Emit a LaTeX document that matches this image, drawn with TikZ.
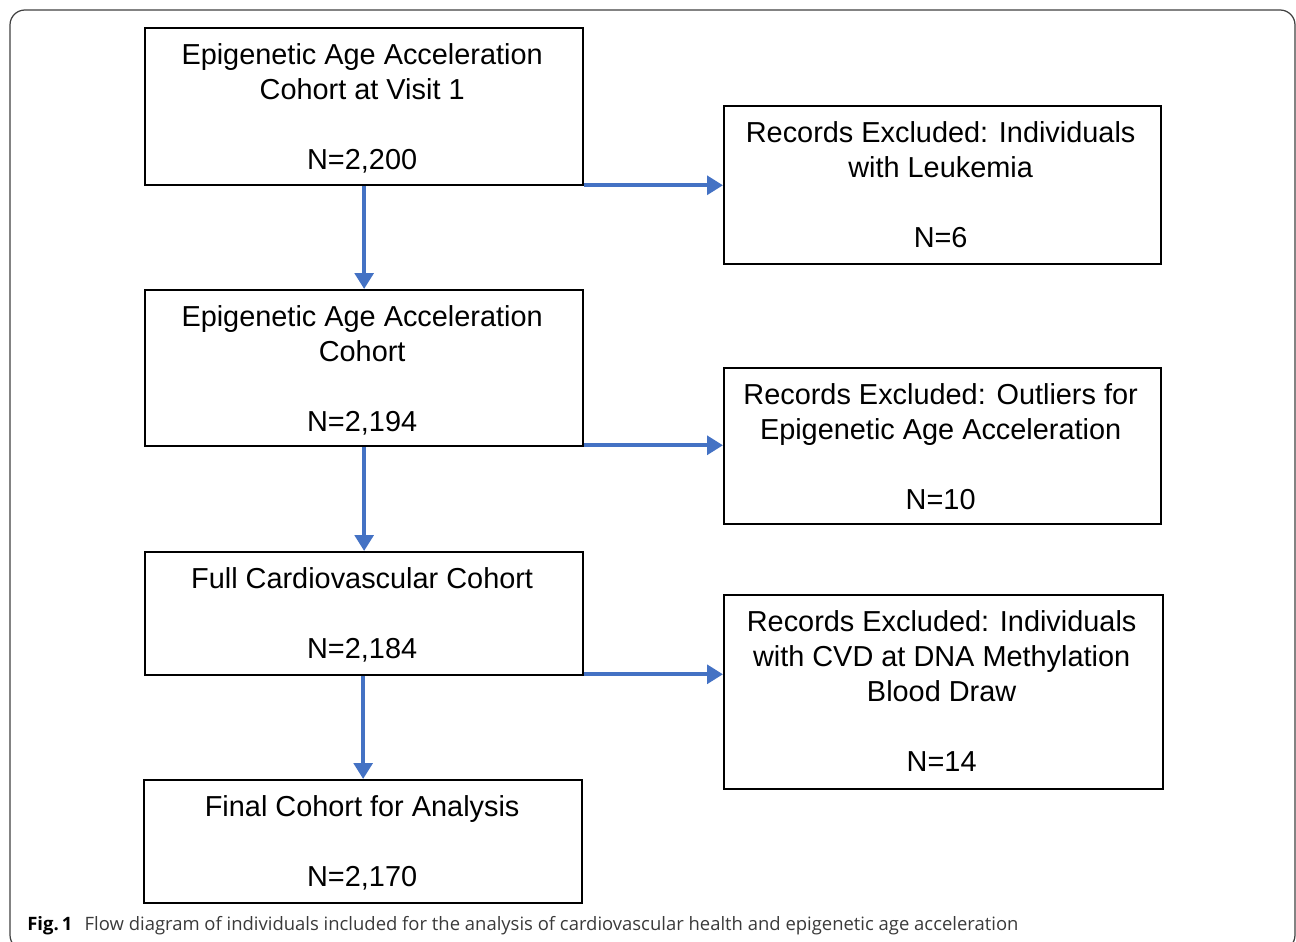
\documentclass[tikz,border=0pt]{standalone}
\usepackage{fontspec}
\setmainfont{Liberation Sans}
\newfontfamily\capfont{Open Sans}
\usetikzlibrary{arrows.meta}
\definecolor{arrblue}{HTML}{4472C4}
\definecolor{capgray}{HTML}{3A3A3A}
\tikzset{
  box/.style={draw=black, line width=1.3pt, anchor=north west, inner sep=0pt},
  boxtext/.style={anchor=north, align=center, inner sep=0pt, font=\fontsize{16.44pt}{19.84pt}\selectfont},
  arr/.style={draw=arrblue, line width=2.3pt, -{Triangle[length=9pt,width=10.5pt]}},
  frame/.style={draw=black!75, line width=0.7pt, rounded corners=8.5pt}
}
\begin{document}
\begin{tikzpicture}[x=0.02cm, y=-0.02cm]
\useasboundingbox (0,0) rectangle (1296,942);
\draw[frame] (10,10) rectangle (1295,950);
% boxes
\node[box, minimum width=438*0.02cm, minimum height=157*0.02cm] (b1) at (144,27) {};
\node[box, minimum width=437*0.02cm, minimum height=158*0.02cm] (b2) at (723,105) {};
\node[box, minimum width=438*0.02cm, minimum height=156*0.02cm] (b3) at (144,289) {};
\node[box, minimum width=437*0.02cm, minimum height=156*0.02cm] (b4) at (723,367) {};
\node[box, minimum width=438*0.02cm, minimum height=123*0.02cm] (b5) at (144,551) {};
\node[box, minimum width=439*0.02cm, minimum height=194*0.02cm] (b6) at (723,594) {};
\node[box, minimum width=438*0.02cm, minimum height=123*0.02cm] (b7) at (143,779) {};
% texts
\node[boxtext] (t1) at ([xshift=-2*0.02cm,yshift=-16.5*0.02cm]b1.north) {Epigenetic Age Acceleration\\Cohort at Visit 1\\[19.84pt]N=2,200};
\node[boxtext] (t2) at ([xshift=-2*0.02cm,yshift=-16.5*0.02cm]b2.north) {Records Excluded: Individuals\\with Leukemia\\[19.84pt]N=6};
\node[boxtext] (t3) at ([xshift=-2*0.02cm,yshift=-16.5*0.02cm]b3.north) {Epigenetic Age Acceleration\\Cohort\\[19.84pt]N=2,194};
\node[boxtext] (t4) at ([xshift=-2*0.02cm,yshift=-16.5*0.02cm]b4.north) {Records Excluded: Outliers for\\Epigenetic Age Acceleration\\[19.84pt]N=10};
\node[boxtext] (t5) at ([xshift=-2*0.02cm,yshift=-16.5*0.02cm]b5.north) {Full Cardiovascular Cohort\\[19.84pt]N=2,184};
\node[boxtext] (t6) at ([xshift=-2*0.02cm,yshift=-16.5*0.02cm]b6.north) {Records Excluded: Individuals\\with CVD at DNA Methylation\\Blood Draw\\[19.84pt]N=14};
\node[boxtext] (t7) at ([xshift=-1*0.02cm,yshift=-16.5*0.02cm]b7.north) {Final Cohort for Analysis\\[19.84pt]N=2,170};
% arrows
\draw[arr] (b1.south) -- (b3.north);
\draw[arr] (b3.south) -- (b5.north);
\draw[arr] ([xshift=-1*0.02cm]b5.south) -- (b7.north);
\draw[arr] ([yshift=1*0.02cm]b1.south east) -- ([yshift=1*0.02cm]b1.south east -| b2.west);
\draw[arr] ([yshift=2*0.02cm]b3.south east) -- ([yshift=2*0.02cm]b3.south east -| b4.west);
\draw[arr] ([yshift=2*0.02cm]b5.south east) -- ([yshift=2*0.02cm]b5.south east -| b6.west);
% caption
\node[anchor=base west, inner sep=0pt, font=\capfont\fontsize{10.5pt}{12pt}\selectfont, text=capgray] (cap) at (27,930)
  {\textbf{\color{black}Fig.\,1}\hspace{7pt}Flow diagram of individuals included for the analysis of cardiovascular health and epigenetic age acceleration};
\end{tikzpicture}
\end{document}
